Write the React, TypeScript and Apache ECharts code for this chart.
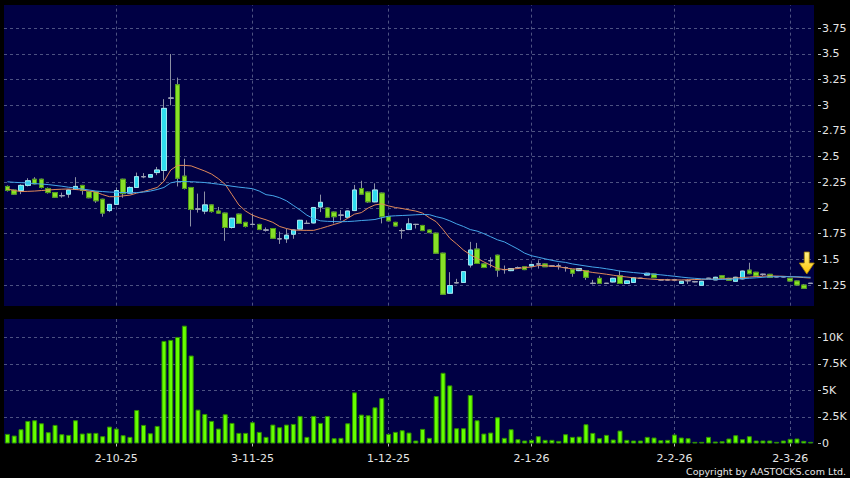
import { useEffect, useRef } from 'react';
import * as echarts from 'echarts';

// Trading days shown (day lists per month)
const MONTH_DAYS: [string, number[]][] = [
  ['9-25', [9, 10, 11, 12, 15, 16, 17, 18, 19, 22, 23, 24, 25, 26, 29, 30]],
  ['10-25', [2, 3, 6, 8, 9, 10, 13, 14, 15, 16, 17, 20, 21, 22, 23, 24, 27, 28, 30, 31]],
  ['11-25', [3, 4, 5, 6, 7, 10, 11, 12, 13, 14, 17, 18, 19, 20, 21, 24, 25, 26, 27, 28]],
  ['12-25', [1, 2, 3, 4, 5, 8, 9, 10, 11, 12, 15, 16, 17, 18, 19, 22, 23, 24, 29, 30, 31]],
  ['1-26', [2, 5, 6, 7, 8, 9, 12, 13, 14, 15, 16, 19, 20, 21, 22, 23, 26, 27, 28, 29, 30]],
  ['2-26', [2, 3, 4, 5, 6, 9, 10, 11, 12, 13, 16, 20, 23, 24, 25, 26, 27]],
  ['3-26', [2, 3, 4, 5]],
];
const DATES: string[] = MONTH_DAYS.flatMap(([m, ds]) => ds.map((d) => `${d}-${m}`));
const DATE_LABELS = ['2-10-25', '3-11-25', '1-12-25', '2-1-26', '2-2-26', '2-3-26'];

const OPEN = [
  2.21, 2.175, 2.17, 2.22, 2.28, 2.28, 2.19, 2.15, 2.12, 2.135,
  2.18, 2.22, 2.16, 2.16, 2.085, 1.975, 2.035, 2.28, 2.145, 2.2,
  2.305, 2.3, 2.345, 2.365, 3.07, 3.2, 2.31, 2.2, 1.99, 1.97,
  2.03, 1.97, 1.95, 1.81, 1.94, 1.86, 1.84, 1.84, 1.785, 1.8,
  1.7, 1.7, 1.745, 1.795, 1.85, 1.855, 2.01, 2.0, 1.96, 1.93,
  1.91, 1.975, 2.19, 2.155, 2.06, 2.145, 1.915, 1.86, 1.78, 1.79,
  1.84, 1.83, 1.785, 1.755, 1.56, 1.17, 1.272, 1.275, 1.445, 1.6,
  1.455, 1.487, 1.54, 1.4, 1.39, 1.42, 1.428, 1.435, 1.455, 1.455,
  1.435, 1.435, 1.42, 1.4, 1.39, 1.39, 1.266, 1.315, 1.266, 1.28,
  1.34, 1.265, 1.275, 1.315, 1.347, 1.357, 1.3, 1.3, 1.3, 1.266,
  1.292, 1.282, 1.247, 1.315, 1.3, 1.34, 1.315, 1.286, 1.31, 1.395,
  1.374, 1.354, 1.354, 1.33, 1.33, 1.315, 1.289, 1.25, 1.266,
];
const CLOSE = [
  2.17, 2.135, 2.22, 2.265, 2.235, 2.2, 2.15, 2.105, 2.12, 2.175,
  2.21, 2.17, 2.1, 2.07, 1.95, 2.035, 2.17, 2.14, 2.2, 2.305,
  2.305, 2.325, 2.37, 2.97, 3.07, 2.29, 2.19, 1.985, 1.99, 2.03,
  1.965, 1.95, 1.81, 1.9, 1.85, 1.82, 1.84, 1.79, 1.785, 1.705,
  1.7, 1.735, 1.785, 1.88, 1.85, 2.005, 2.055, 1.91, 1.915, 1.93,
  1.97, 2.175, 2.135, 2.06, 2.175, 1.915, 1.875, 1.825, 1.78, 1.845,
  1.84, 1.78, 1.76, 1.56, 1.16, 1.245, 1.272, 1.38, 1.59, 1.46,
  1.42, 1.487, 1.395, 1.4, 1.41, 1.42, 1.4, 1.45, 1.455, 1.428,
  1.435, 1.435, 1.42, 1.365, 1.41, 1.325, 1.266, 1.266, 1.266, 1.315,
  1.265, 1.29, 1.32, 1.315, 1.364, 1.321, 1.3, 1.3, 1.3, 1.286,
  1.292, 1.282, 1.286, 1.315, 1.325, 1.318, 1.296, 1.325, 1.385, 1.36,
  1.338, 1.354, 1.325, 1.33, 1.33, 1.289, 1.25, 1.218, 1.266,
];
const LOW = [
  2.16, 2.13, 2.135, 2.21, 2.23, 2.19, 2.14, 2.1, 2.1, 2.1,
  2.175, 2.13, 2.095, 2.05, 1.915, 1.96, 2.03, 2.1, 2.14, 2.195,
  2.29, 2.295, 2.32, 2.27, 3.0, 2.21, 2.18, 1.82, 1.955, 1.94,
  1.955, 1.945, 1.68, 1.8, 1.845, 1.81, 1.835, 1.785, 1.77, 1.7,
  1.65, 1.66, 1.7, 1.79, 1.845, 1.85, 1.96, 1.905, 1.85, 1.88,
  1.905, 1.97, 2.13, 2.05, 2.055, 1.85, 1.87, 1.82, 1.7, 1.785,
  1.8, 1.775, 1.755, 1.555, 1.155, 1.165, 1.265, 1.27, 1.42, 1.455,
  1.415, 1.42, 1.33, 1.36, 1.385, 1.41, 1.395, 1.43, 1.41, 1.425,
  1.43, 1.4, 1.38, 1.33, 1.385, 1.3, 1.255, 1.26, 1.26, 1.275,
  1.26, 1.26, 1.27, 1.31, 1.345, 1.32, 1.295, 1.295, 1.295, 1.262,
  1.26, 1.275, 1.245, 1.31, 1.298, 1.315, 1.29, 1.282, 1.305, 1.355,
  1.335, 1.338, 1.32, 1.325, 1.325, 1.285, 1.245, 1.215, 1.262,
];
const HIGH = [
  2.22, 2.18, 2.23, 2.29, 2.3, 2.285, 2.2, 2.155, 2.15, 2.18,
  2.3, 2.225, 2.165, 2.165, 2.09, 2.04, 2.2, 2.285, 2.21, 2.345,
  2.34, 2.33, 2.4, 3.06, 3.5, 3.27, 2.48, 2.205, 2.14, 2.16,
  2.035, 2.01, 1.955, 1.905, 1.945, 1.865, 1.94, 1.845, 1.81, 1.805,
  1.77, 1.8, 1.79, 1.885, 1.88, 2.01, 2.13, 2.005, 1.965, 1.98,
  1.975, 2.225, 2.265, 2.16, 2.24, 2.15, 1.92, 1.865, 1.8, 1.9,
  1.845, 1.835, 1.79, 1.76, 1.565, 1.375, 1.31, 1.385, 1.67, 1.66,
  1.46, 1.52, 1.545, 1.44, 1.415, 1.43, 1.43, 1.455, 1.49, 1.46,
  1.44, 1.46, 1.43, 1.405, 1.415, 1.395, 1.3, 1.34, 1.27, 1.32,
  1.39, 1.295, 1.325, 1.32, 1.37, 1.36, 1.305, 1.31, 1.305, 1.29,
  1.305, 1.29, 1.29, 1.32, 1.33, 1.345, 1.32, 1.33, 1.39, 1.467,
  1.378, 1.36, 1.358, 1.335, 1.335, 1.318, 1.292, 1.26, 1.27,
];
const MA_SHORT = [
  2.185, 2.17, 2.16, 2.162, 2.165, 2.17, 2.175, 2.18, 2.183, 2.185,
  2.18, 2.175, 2.165, 2.155, 2.13, 2.11, 2.11, 2.118, 2.125, 2.145,
  2.16, 2.18, 2.2, 2.26, 2.37, 2.415, 2.415, 2.41, 2.385, 2.36,
  2.33, 2.285, 2.23, 2.13, 2.03, 1.97, 1.93, 1.905, 1.885, 1.86,
  1.82, 1.8, 1.785, 1.783, 1.782, 1.782, 1.8, 1.82, 1.84, 1.86,
  1.9, 1.94, 1.955, 2.0, 2.03, 2.04, 2.02, 2.005, 1.995, 1.982,
  1.97, 1.95, 1.905, 1.866, 1.79, 1.705, 1.65, 1.59, 1.545, 1.51,
  1.475, 1.443, 1.41, 1.4, 1.405, 1.41, 1.42, 1.425, 1.44, 1.438,
  1.432, 1.428, 1.415, 1.408, 1.403, 1.383, 1.372, 1.364, 1.355, 1.345,
  1.335, 1.328, 1.32, 1.315, 1.31, 1.305, 1.302, 1.3, 1.299, 1.299,
  1.301, 1.303, 1.305, 1.306, 1.308, 1.31, 1.312, 1.318, 1.323, 1.327,
  1.332, 1.336, 1.338, 1.337, 1.335, 1.331, 1.327, 1.322, 1.318,
];
const MA_LONG = [
  2.255, 2.25, 2.247, 2.243, 2.238, 2.233, 2.228, 2.22, 2.212, 2.202,
  2.195, 2.185, 2.175, 2.165, 2.16, 2.155, 2.153, 2.15, 2.149, 2.15,
  2.155, 2.165, 2.18, 2.2, 2.245, 2.258, 2.257, 2.256, 2.252, 2.248,
  2.24, 2.232, 2.222, 2.212, 2.203, 2.196, 2.188, 2.165, 2.13, 2.12,
  2.1, 2.07, 2.025, 1.98, 1.93, 1.895, 1.875, 1.87, 1.868, 1.866,
  1.868, 1.872, 1.878, 1.882, 1.888, 1.905, 1.92, 1.924, 1.927, 1.93,
  1.934, 1.937, 1.935, 1.915, 1.9, 1.875, 1.845, 1.82, 1.79, 1.775,
  1.75, 1.72, 1.69, 1.67, 1.635, 1.6, 1.56, 1.535, 1.52, 1.505,
  1.49, 1.478, 1.47, 1.455, 1.445, 1.435, 1.425, 1.418, 1.408, 1.398,
  1.385, 1.378, 1.371, 1.365, 1.36, 1.355, 1.349, 1.342, 1.335, 1.327,
  1.32, 1.315, 1.31, 1.307, 1.305, 1.305, 1.306, 1.308, 1.312, 1.316,
  1.32, 1.325, 1.33, 1.331, 1.331, 1.331, 1.33, 1.328, 1.325,
];
const VOLUME = [
  906, 750, 1344, 2125, 2188, 1906, 1063, 1750, 875, 813,
  2188, 938, 1000, 1000, 688, 1594, 1406, 781, 625, 3156,
  1750, 969, 1656, 9656, 9750, 10031, 11094, 8281, 3188, 2781,
  2125, 1406, 2750, 1938, 1000, 1000, 2000, 1094, 625, 1781,
  1531, 1781, 1844, 2594, 625, 2594, 1938, 2594, 500, 531,
  1906, 4813, 2719, 2656, 3406, 4281, 906, 1094, 1250, 1031,
  281, 1375, 531, 4469, 6656, 5469, 1438, 1438, 4563, 2188,
  938, 1031, 2469, 531, 1344, 406, 281, 344, 688, 344,
  344, 250, 875, 625, 656, 1813, 1000, 500, 813, 375,
  1219, 344, 281, 281, 625, 563, 313, 344, 844, 563,
  500, 156, 156, 625, 188, 219, 469, 781, 406, 688,
  281, 281, 281, 156, 281, 438, 469, 250, 156,
];
const ARROW_MARK = { date: '4-3-26', price: 1.464 };

const NAVY = '#000044';
const GRID_LINE = '#4d5282';
const TEXT = '#e6e6e6';
const FONT = 'DejaVu Sans';

export default function App() {
  const ref = useRef<HTMLDivElement>(null);
  useEffect(() => {
    const chart = echarts.init(ref.current!, null, { renderer: 'svg' });
    const T = 'rgba(0,0,0,0)';
    const isLabel = (_i: number, v: string) => DATE_LABELS.includes(v);
    const wickData = DATES.map((_, i) => [OPEN[i], CLOSE[i], LOW[i], HIGH[i]]);
    const bodyData = DATES.map((_, i) => [
      OPEN[i], CLOSE[i], Math.min(OPEN[i], CLOSE[i]), Math.max(OPEN[i], CLOSE[i]),
    ]);
    const priceLineColors = [T, ...Array(11).fill(GRID_LINE), T];
    const volLineColors = [T, GRID_LINE, GRID_LINE, GRID_LINE, GRID_LINE, T];

    chart.setOption({
      animation: false,
      backgroundColor: '#000000',
      grid: [
        { left: 4, right: 36, top: 2.63, height: 308.04, show: true, backgroundColor: NAVY, borderWidth: 0 },
        { left: 4, right: 36, top: 319, height: 124.5, show: true, backgroundColor: NAVY, borderWidth: 0 },
      ],
      xAxis: [
        {
          type: 'category', gridIndex: 0, data: DATES, boundaryGap: true,
          axisLine: { show: false }, axisTick: { show: false }, axisLabel: { show: false },
          splitLine: { show: true, interval: isLabel, alignWithLabel: true, lineStyle: { color: GRID_LINE, type: [3, 3], width: 1 } },
        },
        {
          type: 'category', gridIndex: 1, data: DATES, boundaryGap: true, offset: 3,
          axisLine: { show: false },
          axisTick: { show: true, interval: isLabel, alignWithLabel: true, length: 3, lineStyle: { color: '#bbbbbb' } },
          axisLabel: { interval: isLabel, color: TEXT, fontSize: 11, fontFamily: FONT, margin: 6 },
          splitLine: { show: true, interval: isLabel, alignWithLabel: true, lineStyle: { color: GRID_LINE, type: [3, 3], width: 1 } },
        },
      ],
      yAxis: [
        {
          type: 'value', gridIndex: 0, position: 'right', min: 1, max: 4, interval: 0.25, offset: 4,
          axisLine: { show: false },
          axisTick: { show: true, length: 3, lineStyle: { color: '#bbbbbb' } },
          axisLabel: {
            margin: 4, color: TEXT, fontSize: 11, fontFamily: FONT,
            formatter: (v: number) => (v < 1.1 || v > 3.9 ? '' : String(Math.round(v * 100) / 100)),
          },
          splitLine: { show: true, lineStyle: { color: priceLineColors, type: [3, 3], width: 1 } },
        },
        {
          type: 'value', gridIndex: 1, position: 'right', min: 0, max: 11720, interval: 2500, offset: 4,
          axisLine: { show: false },
          axisTick: { show: true, length: 3, lineStyle: { color: '#bbbbbb' } },
          axisLabel: {
            margin: 4, color: TEXT, fontSize: 11, fontFamily: FONT,
            formatter: (v: number) => (v === 0 ? '0' : v % 2500 === 0 ? `${v / 1000}K` : ''),
          },
          splitLine: { show: true, lineStyle: { color: volLineColors, type: [3, 3], width: 1 } },
        },
      ],
      series: [
        {
          name: 'wick', type: 'candlestick', xAxisIndex: 0, yAxisIndex: 0, data: wickData, barWidth: 5,
          itemStyle: { color: '#8c90a4', color0: '#8c90a4', borderColor: '#8c90a4', borderColor0: '#8c90a4', borderColorDoji: '#8c90a4', borderWidth: 1 },
        },
        {
          name: 'body', type: 'candlestick', xAxisIndex: 0, yAxisIndex: 0, data: bodyData, barWidth: 5,
          itemStyle: { color: '#30dcf0', color0: '#88e028', borderColor: '#9fe6f0', borderColor0: '#4e9a14', borderColorDoji: '#a0a4b6', borderWidth: 1 },
          markPoint: {
            symbol: 'path://M5,0L10,0L10,11L15,11L7.5,22L0,11L5,11Z',
            symbolSize: [15, 22], symbolOffset: [3, 0], label: { show: false },
            itemStyle: {
              color: new echarts.graphic.LinearGradient(0, 0, 0, 1, [
                { offset: 0, color: '#fff38a' }, { offset: 1, color: '#ffc400' },
              ]),
              borderColor: '#a88300', borderWidth: 0.8,
            },
            data: [{ coord: [ARROW_MARK.date, ARROW_MARK.price] }],
          },
        },
        {
          name: 'MA short', type: 'line', xAxisIndex: 0, yAxisIndex: 0, data: MA_SHORT,
          symbol: 'none', lineStyle: { color: '#e0885a', width: 1 }, z: 3,
        },
        {
          name: 'MA long', type: 'line', xAxisIndex: 0, yAxisIndex: 0, data: MA_LONG,
          symbol: 'none', lineStyle: { color: '#45a6ea', width: 1 }, z: 3,
        },
        {
          name: 'Volume', type: 'bar', xAxisIndex: 1, yAxisIndex: 1, data: VOLUME, barWidth: 5,
          itemStyle: { color: '#66ff00', borderColor: '#2f8f00', borderWidth: 1 },
        },
      ],
      graphic: [
        { type: 'rect', z: 100, shape: { x: 0, y: 0, width: 850, height: 5 }, style: { fill: '#000000' } },
        { type: 'rect', z: 100, shape: { x: 0, y: 306, width: 850, height: 13 }, style: { fill: '#000000' } },
        { type: 'rect', z: 100, shape: { x: 815, y: 306, width: 35, height: 15 }, style: { fill: '#000000' } },
        {
          type: 'text', z: 100, x: 846, y: 476,
          style: { text: 'Copyright by AASTOCKS.com Ltd.', fill: TEXT, font: `9.5px "${FONT}"`, textAlign: 'right', textVerticalAlign: 'bottom' },
        },
      ],
    });
    return () => chart.dispose();
  }, []);
  return <div ref={ref} style={{ position: 'fixed', left: 0, top: 0, width: 850, height: 478 }} />;
}
